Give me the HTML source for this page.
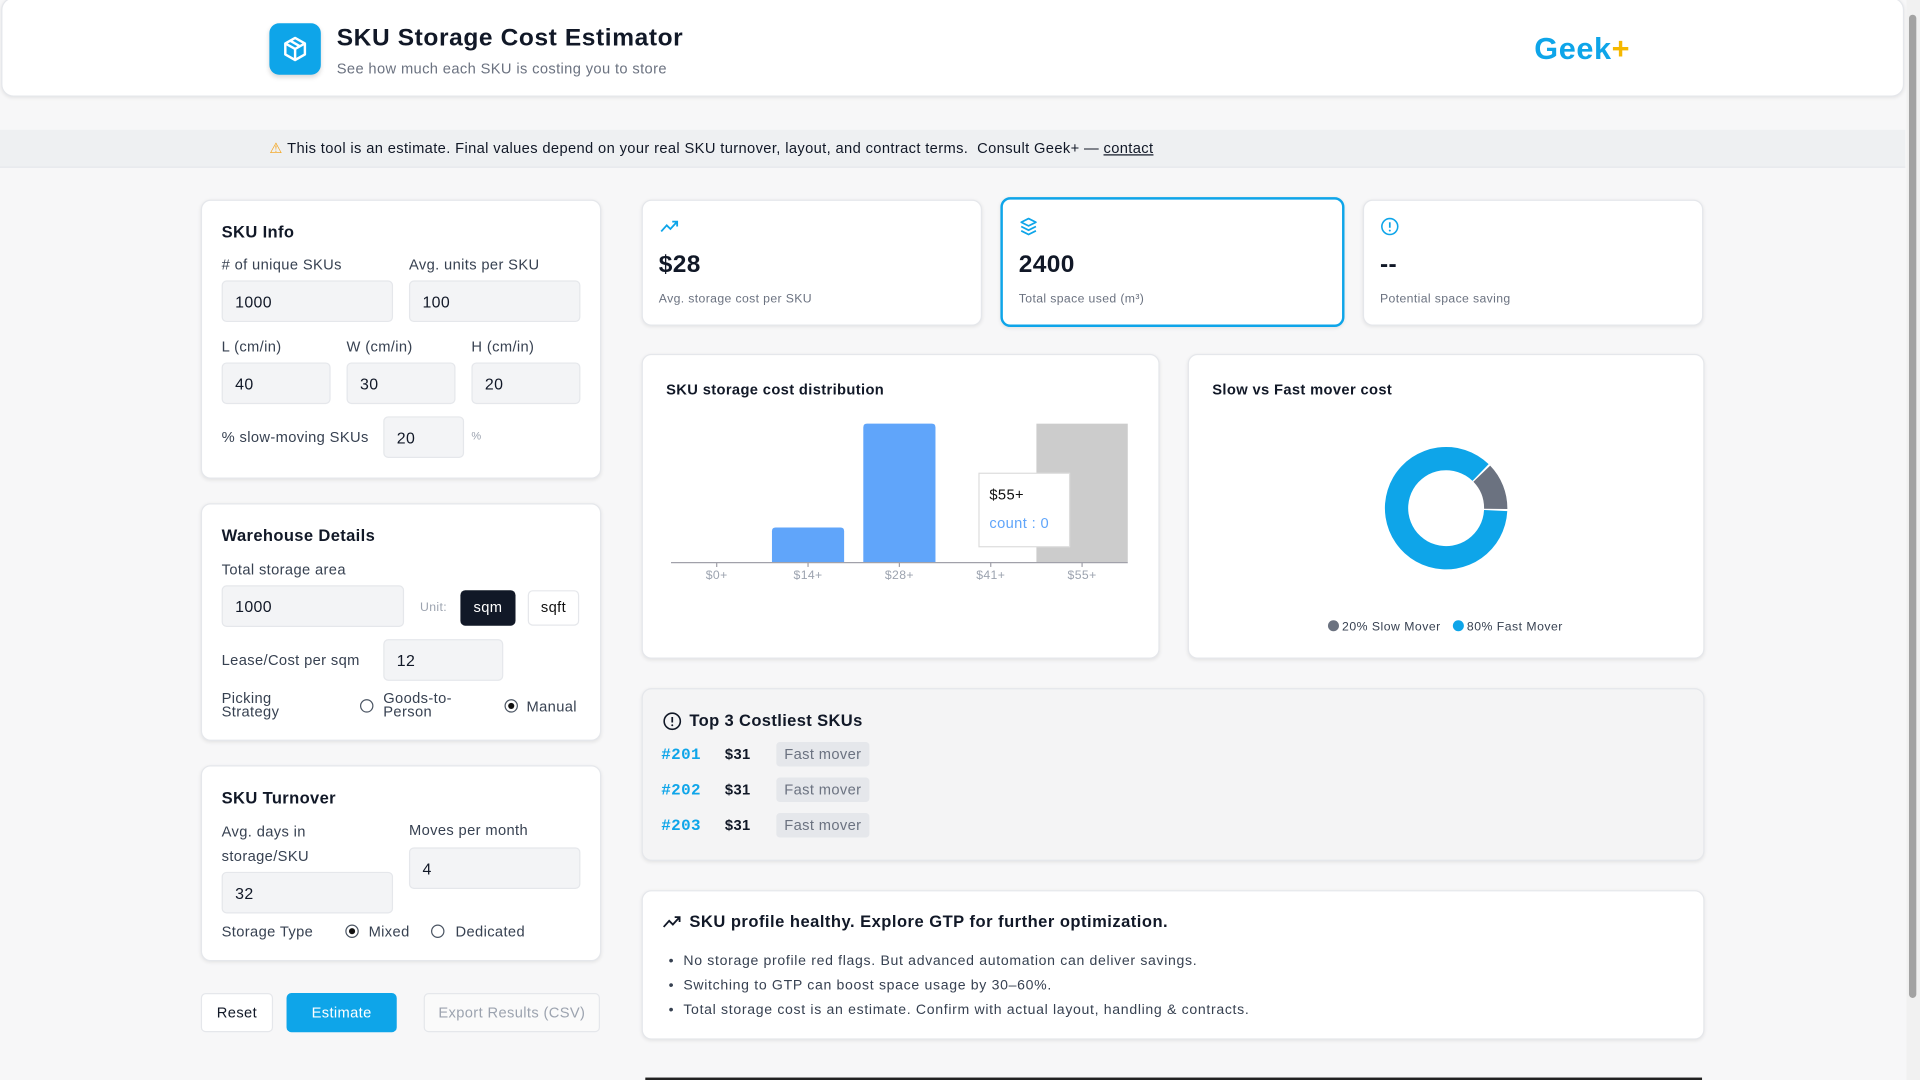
<!DOCTYPE html>
<html><head><meta charset="utf-8">
<style>
html,body{margin:0;padding:0;width:1920px;height:1080px;overflow:hidden;background:#f7f7f8;}
#wrap{position:absolute;left:0;top:0;width:1568px;height:882px;transform:scale(1.22449);transform-origin:0 0;font-family:"Liberation Sans",sans-serif;color:#111827;background:#f7f7f8;letter-spacing:0.3px;}
.abs{position:absolute;}
.card{position:absolute;background:#fff;border:1px solid #e5e7eb;border-radius:8px;box-shadow:0 1px 3px rgba(0,0,0,0.08);box-sizing:border-box;}
.h{position:absolute;font-size:13.5px;font-weight:bold;color:#111827;}
.lbl{position:absolute;font-size:12px;color:#374151;}
.inp{position:absolute;background:#f3f4f6;border:1px solid #e5e7eb;border-radius:4px;box-sizing:border-box;font-size:13px;color:#111827;padding-left:10px;display:flex;align-items:center;}
.radio{position:absolute;width:11px;height:11px;border:1px solid #4b5563;border-radius:50%;box-sizing:border-box;background:#fff;}
.radio.on::after{content:"";position:absolute;left:2px;top:2px;width:5px;height:5px;border-radius:50%;background:#111;}
.tag{position:absolute;background:#e5e7eb;border-radius:3px;font-size:12px;color:#6b7280;width:76px;height:20px;line-height:20px;text-align:center;}
</style></head><body>
<div id="wrap">
  <div class="card" style="left:1px;top:-2px;width:1554px;height:81px;border-radius:10px;">
    <div class="abs" style="left:218px;top:20px;width:42px;height:42px;background:#0ea5e9;border-radius:8px;box-shadow:0 2px 4px rgba(0,0,0,0.15);">
      <svg width="42" height="42" viewBox="0 0 42 42"><g fill="none" stroke="#fff" stroke-width="2" stroke-linejoin="round"><path d="M21 12 L29 16.5 L29 25.5 L21 30 L13 25.5 L13 16.5 Z"/><path d="M13 16.5 L21 21 L29 16.5 M21 21 L21 30 M17 14.2 L25 18.8"/></g></svg>
    </div>
    <div class="abs" style="left:273px;top:21px;font-size:20px;font-weight:bold;color:#111827;letter-spacing:0.5px;">SKU Storage Cost Estimator</div>
    <div class="abs" style="left:273px;top:50px;font-size:12px;color:#6b7280;">See how much each SKU is costing you to store</div>
    <div class="abs" style="left:1251px;top:27px;font-size:25px;font-weight:bold;color:#0ea5e9;letter-spacing:0.5px;">Geek<span style="color:#f5b800">+</span></div>
  </div>
  <div class="abs" style="left:1557px;top:0;width:11px;height:882px;background:#f1f1f1;">
    <div class="abs" style="left:2px;top:12px;width:6px;height:803px;background:#a3a3a3;border-radius:3px;"></div>
  </div>
  <div class="abs" style="left:0;top:106px;width:1556px;height:30px;background:#eef0f2;border-bottom:1px solid #e5e7eb;">
    <div class="abs" style="left:220px;top:8px;font-size:12px;color:#111827;white-space:nowrap;letter-spacing:0.3px;"><span style="color:#f59e0b">⚠</span> This tool is an estimate. Final values depend on your real SKU turnover, layout, and contract terms.&nbsp; Consult Geek+ — <span style="text-decoration:underline">contact</span></div>
  </div>

  <div class="card" style="left:164px;top:163px;width:327px;height:228px;">
    <div class="h" style="left:16px;top:18px;">SKU Info</div>
    <div class="lbl" style="left:16px;top:45px;">#&nbsp;of unique SKUs</div>
    <div class="lbl" style="left:169px;top:45px;">Avg. units per SKU</div>
    <div class="inp" style="left:16px;top:65px;width:140px;height:34px;">1000</div>
    <div class="inp" style="left:169px;top:65px;width:140px;height:34px;">100</div>
    <div class="lbl" style="left:16px;top:112px;">L (cm/in)</div>
    <div class="lbl" style="left:118px;top:112px;">W (cm/in)</div>
    <div class="lbl" style="left:220px;top:112px;">H (cm/in)</div>
    <div class="inp" style="left:16px;top:132px;width:89px;height:34px;">40</div>
    <div class="inp" style="left:118px;top:132px;width:89px;height:34px;">30</div>
    <div class="inp" style="left:220px;top:132px;width:89px;height:34px;">20</div>
    <div class="lbl" style="left:16px;top:186px;">% slow-moving SKUs</div>
    <div class="inp" style="left:148px;top:176px;width:66px;height:34px;">20</div>
    <div class="lbl" style="left:220px;top:187px;font-size:9px;color:#9ca3af;">%</div>
  </div>

  <div class="card" style="left:164px;top:411px;width:327px;height:194px;">
    <div class="h" style="left:16px;top:18px;">Warehouse Details</div>
    <div class="lbl" style="left:16px;top:46px;">Total storage area</div>
    <div class="inp" style="left:16px;top:66px;width:149px;height:34px;">1000</div>
    <div class="lbl" style="left:178px;top:79px;font-size:10px;color:#9ca3af;">Unit:</div>
    <div class="abs" style="left:211px;top:70px;width:45px;height:29px;background:#111827;color:#fff;border-radius:4px;font-size:12px;line-height:29px;text-align:center;">sqm</div>
    <div class="abs" style="left:266px;top:70px;width:42px;height:29px;background:#fff;border:1px solid #e5e7eb;box-sizing:border-box;color:#111;border-radius:4px;font-size:12px;line-height:27px;text-align:center;">sqft</div>
    <div class="lbl" style="left:16px;top:120px;">Lease/Cost per sqm</div>
    <div class="inp" style="left:148px;top:110px;width:98px;height:34px;">12</div>
    <div class="lbl" style="left:16px;top:153px;line-height:11px;">Picking<br>Strategy</div>
    <div class="radio" style="left:129px;top:159px;"></div>
    <div class="lbl" style="left:148px;top:153px;line-height:11px;">Goods-to-<br>Person</div>
    <div class="radio on" style="left:247px;top:159px;"></div>
    <div class="lbl" style="left:265px;top:158px;">Manual</div>
  </div>

  <div class="card" style="left:164px;top:625px;width:327px;height:160px;">
    <div class="h" style="left:16px;top:18px;">SKU Turnover</div>
    <div class="lbl" style="left:16px;top:43px;line-height:20px;">Avg. days in<br>storage/SKU</div>
    <div class="lbl" style="left:169px;top:45px;">Moves per month</div>
    <div class="inp" style="left:16px;top:86px;width:140px;height:34px;">32</div>
    <div class="inp" style="left:169px;top:66px;width:140px;height:34px;">4</div>
    <div class="lbl" style="left:16px;top:128px;">Storage Type</div>
    <div class="radio on" style="left:117px;top:129px;"></div>
    <div class="lbl" style="left:136px;top:128px;">Mixed</div>
    <div class="radio" style="left:187px;top:129px;"></div>
    <div class="lbl" style="left:207px;top:128px;">Dedicated</div>
  </div>

  <div class="abs" style="left:164px;top:811px;width:59px;height:32px;background:#fff;border:1px solid #e5e7eb;box-sizing:border-box;border-radius:4px;font-size:12px;line-height:30px;text-align:center;">Reset</div>
  <div class="abs" style="left:234px;top:811px;width:90px;height:32px;background:#0ea5e9;color:#fff;border-radius:4px;font-size:12px;line-height:32px;text-align:center;">Estimate</div>
  <div class="abs" style="left:346px;top:811px;width:144px;height:32px;background:#fafafa;border:1px solid #e5e7eb;box-sizing:border-box;color:#9ca3af;border-radius:4px;font-size:12px;line-height:30px;text-align:center;">Export Results (CSV)</div>

  <div class="card" style="left:524px;top:163px;width:278px;height:103px;">
    <svg class="abs" style="left:14px;top:15px" width="16" height="12" viewBox="0 0 16 12"><path d="M1 10 L5.5 5 L8.5 8 L14 2 M10 2 H14 V6" fill="none" stroke="#0ea5e9" stroke-width="1.5"/></svg>
    <div class="abs" style="left:13px;top:41px;font-size:20px;font-weight:bold;">$28</div>
    <div class="abs" style="left:13px;top:75px;font-size:10px;color:#6b7280;">Avg. storage cost per SKU</div>
  </div>
  <div class="card" style="left:817px;top:161px;width:281px;height:106px;border:2px solid #0ea5e9;">
    <svg class="abs" style="left:13px;top:14px" width="16" height="16" viewBox="0 0 16 16"><g fill="none" stroke="#0ea5e9" stroke-width="1.4" stroke-linejoin="round"><path d="M8 1.5 L14 4.5 L8 7.5 L2 4.5 Z"/><path d="M2 8 L8 11 L14 8 M2 11.5 L8 14.5 L14 11.5"/></g></svg>
    <div class="abs" style="left:13px;top:42px;font-size:20px;font-weight:bold;">2400</div>
    <div class="abs" style="left:13px;top:76px;font-size:10px;color:#6b7280;">Total space used (m³)</div>
  </div>
  <div class="card" style="left:1113px;top:163px;width:278px;height:103px;">
    <svg class="abs" style="left:13px;top:13px" width="16" height="16" viewBox="0 0 16 16"><circle cx="8" cy="8" r="6.5" fill="none" stroke="#0ea5e9" stroke-width="1.3"/><path d="M8 4.5 V9" stroke="#0ea5e9" stroke-width="1.4"/><circle cx="8" cy="11.3" r="0.8" fill="#0ea5e9"/></svg>
    <div class="abs" style="left:13px;top:41px;font-size:20px;font-weight:bold;">--</div>
    <div class="abs" style="left:13px;top:75px;font-size:10px;color:#6b7280;">Potential space saving</div>
  </div>

  <div class="card" style="left:524px;top:289px;width:423px;height:249px;">
    <div class="h" style="left:19px;top:21px;font-size:12px;">SKU storage cost distribution</div>
  </div>
  <svg id="bar" class="abs" style="left:524px;top:289px" width="423" height="249"></svg>

  <div class="card" style="left:970px;top:289px;width:422px;height:249px;">
    <div class="h" style="left:19px;top:21px;font-size:12px;">Slow vs Fast mover cost</div>
  </div>
  <svg id="donut" class="abs" style="left:970px;top:289px" width="422" height="249"></svg>

  <div class="card" style="left:524px;top:562px;width:868px;height:141px;background:#f4f4f5;">
    <svg class="abs" style="left:16px;top:18px" width="16" height="16" viewBox="0 0 16 16"><circle cx="8" cy="8" r="6.6" fill="none" stroke="#111827" stroke-width="1.3"/><path d="M8 4.5 V9" stroke="#111827" stroke-width="1.4"/><circle cx="8" cy="11.3" r="0.8" fill="#111827"/></svg>
    <div class="h" style="left:38px;top:18px;font-size:13.5px;">Top 3 Costliest SKUs</div>
    <div class="abs" style="left:15px;top:46px;font:bold 13px 'Liberation Mono',monospace;color:#0ea5e9;">#201</div>
    <div class="abs" style="left:67px;top:46px;font-size:12px;font-weight:bold;">$31</div>
    <div class="tag" style="left:109px;top:43px;">Fast mover</div>
    <div class="abs" style="left:15px;top:75px;font:bold 13px 'Liberation Mono',monospace;color:#0ea5e9;">#202</div>
    <div class="abs" style="left:67px;top:75px;font-size:12px;font-weight:bold;">$31</div>
    <div class="tag" style="left:109px;top:72px;">Fast mover</div>
    <div class="abs" style="left:15px;top:104px;font:bold 13px 'Liberation Mono',monospace;color:#0ea5e9;">#203</div>
    <div class="abs" style="left:67px;top:104px;font-size:12px;font-weight:bold;">$31</div>
    <div class="tag" style="left:109px;top:101px;">Fast mover</div>
  </div>

  <div class="card" style="left:524px;top:727px;width:868px;height:122px;">
    <svg class="abs" style="left:16px;top:19px" width="16" height="12" viewBox="0 0 16 12"><path d="M1 10 L5.5 5 L8.5 8 L14 2 M10 2 H14 V6" fill="none" stroke="#111827" stroke-width="1.5"/></svg>
    <div class="h" style="left:38px;top:17px;letter-spacing:0.4px;">SKU profile healthy. Explore GTP for further optimization.</div>
    <div class="abs" style="left:21px;top:47px;font-size:11.5px;color:#374151;line-height:20px;letter-spacing:0.55px;">
      • &nbsp;No storage profile red flags. But advanced automation can deliver savings.<br>
      • &nbsp;Switching to GTP can boost space usage by 30–60%.<br>
      • &nbsp;Total storage cost is an estimate. Confirm with actual layout, handling &amp; contracts.
    </div>
  </div>
  <div class="abs" style="left:527px;top:880px;width:863px;height:2px;background:#222;"></div>
</div>

<script>
const categories = ["$0+", "$14+", "$28+", "$41+", "$55+"];
const counts = [0, 200, 800, 0, 0];
const highlightIndex = 4;
const tooltipLabel = "$55+";
const tooltipCount = 0;
const slowFastLabels = ["20% Slow Mover", "80% Fast Mover"];
const slowFastValues = [13, 87];

const NS = "http://www.w3.org/2000/svg";
function mk(tag, attrs, parent){const e=document.createElementNS(NS,tag);for(const k in attrs)e.setAttribute(k,attrs[k]);parent.appendChild(e);return e;}

(function(){
  const svg=document.getElementById('bar');
  const x0=24,x1=397,yBase=170,yTop=57;
  const maxV=Math.max(...counts);
  const band=(x1-x0)/categories.length;
  const xc=i=>x0+band*(i+0.5);
  const y=v=>yBase-(v/maxV)*(yBase-yTop);
  const hl=mk('rect',{x:x0+band*highlightIndex,y:yTop,width:band,height:yBase-yTop,fill:'#cccccc'},svg);
  
  
  counts.forEach((v,i)=>{
    if(v<=0)return;
    const w=band*0.79;
    const r=mk('path',{d:`M${xc(i)-w/2},${yBase} V${y(v)+3} Q${xc(i)-w/2},${y(v)} ${xc(i)-w/2+3},${y(v)} H${xc(i)+w/2-3} Q${xc(i)+w/2},${y(v)} ${xc(i)+w/2},${y(v)+3} V${yBase} Z`,fill:'#60a5fa'},svg);
    
    
  });
  const ax=mk('line',{x1:x0,x2:x1,y1:yBase+0.5,y2:yBase+0.5,stroke:'#a1a1aa','stroke-width':1},svg);
  
  
  categories.forEach((c,i)=>{
    mk('line',{x1:xc(i),x2:xc(i),y1:yBase,y2:yBase+4,stroke:'#a1a1aa'},svg);
    const t=mk('text',{x:xc(i),y:yBase+14,'text-anchor':'middle','font-size':10,fill:'#9ca3af','font-family':'Liberation Sans, sans-serif'},svg);
    t.textContent=c;
    
    
  });
  const g=mk('g',{},svg);
  
  
  mk('rect',{x:275.5,y:97.5,width:74,height:60,fill:'#fff',stroke:'#ddd'},g);
  const t1=mk('text',{x:284,y:119,'font-size':12,fill:'#111','font-family':'Liberation Sans, sans-serif'},g);t1.textContent=tooltipLabel;
  const t2=mk('text',{x:284,y:142,'font-size':12,fill:'#60a5fa','font-family':'Liberation Sans, sans-serif'},g);t2.textContent='count : '+tooltipCount;
})();

(function(){
  const svg=document.getElementById('donut');
  const cx=211,cy=126,R=50,r=31;
  const total=slowFastValues.reduce((a,b)=>a+b,0);
  const start=45;
  const colors=['#6b7280','#0ea5e9'];
  const pt=(a,rad)=>[cx+rad*Math.sin(a*Math.PI/180),cy-rad*Math.cos(a*Math.PI/180)];
  let a=start;
  slowFastValues.forEach((v,i)=>{
    const sweep=v/total*360, a0=a+1, a1=a+sweep-1;
    const [ox0,oy0]=pt(a0,R),[ox1,oy1]=pt(a1,R),[ix1,iy1]=pt(a1,r),[ix0,iy0]=pt(a0,r);
    const lg=sweep>180?1:0;
    const p=mk('path',{d:`M${ox0},${oy0} A${R},${R} 0 ${lg} 1 ${ox1},${oy1} L${ix1},${iy1} A${r},${r} 0 ${lg} 0 ${ix0},${iy0} Z`,fill:colors[i]},svg);
    
    
    a+=sweep;
  });
  const lx=[115,217];
  slowFastLabels.forEach((l,i)=>{
    const g=mk('g',{},svg);
    
    
    mk('circle',{cx:lx[i]+4,cy:222,r:4.5,fill:colors[i]},g);
    const t=mk('text',{x:lx[i]+11,y:226,'font-size':10,fill:'#374151','font-family':'Liberation Sans, sans-serif','letter-spacing':0.4},g);
    t.textContent=l;
  });
})();
</script>
</body></html>
